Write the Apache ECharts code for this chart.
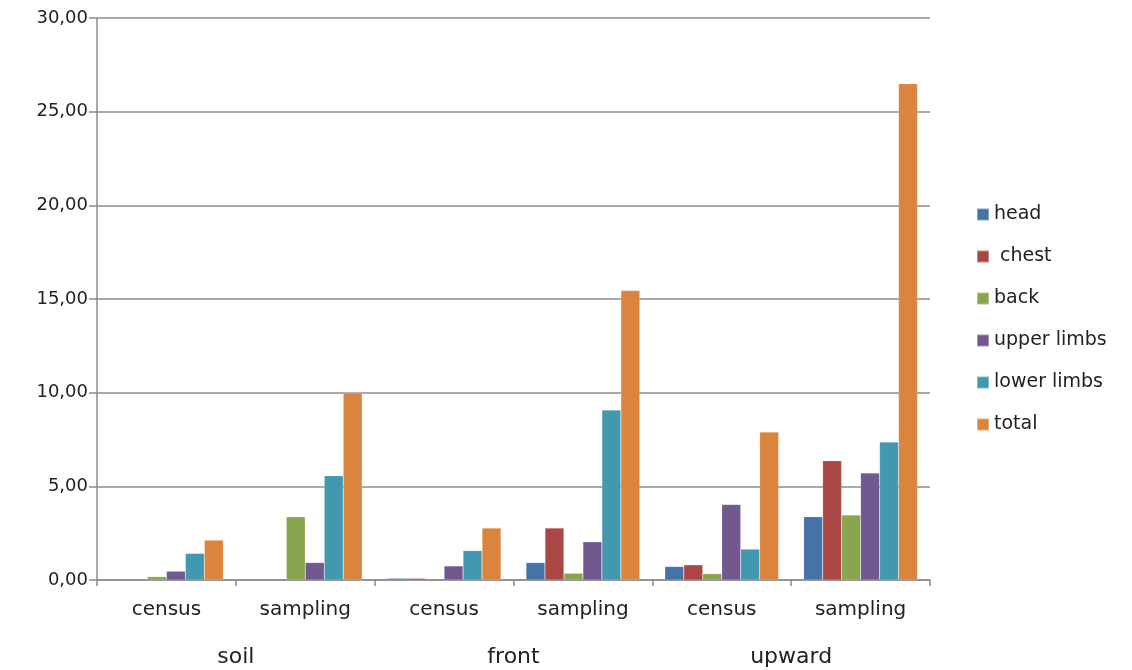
<!DOCTYPE html>
<html>
<head>
<meta charset="utf-8">
<script src="https://cdn.jsdelivr.net/npm/echarts@6/dist/echarts.min.js"></script>
<style>html,body{margin:0;padding:0;background:#fff}#c{width:1132px;height:670px}</style>
</head>
<body>
<div id="c"></div>
<script>
var subCategories = ['census', 'sampling', 'census', 'sampling', 'census', 'sampling'];
var groupCategories = ['soil', 'front', 'upward'];
var seriesNames = ['head', ' chest', 'back', 'upper limbs', 'lower limbs', 'total'];
var head       = [null, null, 0.09, 0.93, 0.72, 3.38];
var chest      = [null, null, 0.09, 2.77, 0.81, 6.37];
var back       = [0.18, 3.37, null, 0.36, 0.34, 3.47];
var upperLimbs = [0.47, 0.93, 0.75, 2.04, 4.03, 5.71];
var lowerLimbs = [1.42, 5.57, 1.57, 9.07, 1.65, 7.36];
var total      = [2.13, 10.00, 2.77, 15.45, 7.90, 26.49];
var yTicks = [0, 5, 10, 15, 20, 25, 30];

var colors = ['#4572A7', '#AA4643', '#89A54E', '#71588F', '#4198AF', '#DB843D'];
var values = [head, chest, back, upperLimbs, lowerLimbs, total];

var chart = echarts.init(document.getElementById('c'));
var series = seriesNames.map(function (n, i) {
  return {
    name: n, type: 'bar', xAxisIndex: 0, data: values[i],
    barGap: '0%', barCategoryGap: '18%',
    itemStyle: { color: colors[i], borderColor: 'rgba(255,255,255,0.35)', borderWidth: 0.5 }
  };
});
chart.setOption({
  animation: false,
  color: colors,
  grid: { left: 97, right: 202, top: 18, bottom: 90, containLabel: false },
  legend: {
    orient: 'vertical', left: 971, top: 200,
    itemWidth: 12, itemHeight: 12, itemGap: 23, icon: 'rect',
    textStyle: { fontFamily: 'DejaVu Sans', fontSize: 19, color: '#222' },
    data: seriesNames
  },
  xAxis: [{
    type: 'category', data: subCategories, position: 'bottom',
    axisLine: { lineStyle: { color: '#8c8c8c', width: 1.5 } },
    axisTick: { show: true, length: 6, lineStyle: { color: '#8c8c8c', width: 1.5 } },
    axisLabel: { margin: 20, fontFamily: 'DejaVu Sans', fontSize: 20, color: '#222' }
  }, {
    type: 'category', data: groupCategories, position: 'bottom', offset: 50,
    axisLine: { show: false }, axisTick: { show: false },
    axisLabel: { margin: 16, fontFamily: 'DejaVu Sans', fontSize: 22, color: '#222' }
  }],
  yAxis: {
    type: 'value', min: yTicks[0], max: yTicks[yTicks.length - 1], interval: 5,
    axisLine: { show: true, lineStyle: { color: '#8c8c8c', width: 1.5 } },
    axisTick: { show: true, length: 8, lineStyle: { color: '#8c8c8c', width: 1.5 } },
    splitLine: { lineStyle: { color: '#8c8c8c', width: 1.5 } },
    axisLabel: {
      margin: 9, fontFamily: 'DejaVu Sans', fontSize: 18, color: '#222',
      formatter: function (v) { return v.toFixed(2).replace('.', ','); }
    }
  },
  series: series.concat([{ type: 'bar', xAxisIndex: 1, data: [null, null, null], silent: true }])
});
</script>
</body>
</html>
